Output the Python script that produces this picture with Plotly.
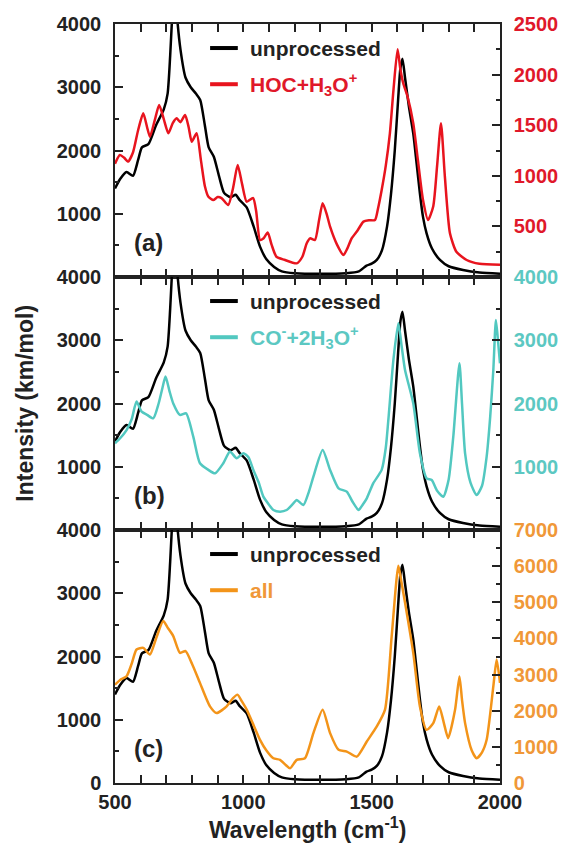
import plotly.graph_objects as go
from plotly.subplots import make_subplots

# ---------------- data ----------------
unproc_x = [500, 520, 545, 570, 590, 605, 630, 660, 690, 705, 715, 725, 732, 740, 755, 775, 795, 815,
            832, 850, 865, 885, 905, 925, 950, 970, 985, 1013, 1040, 1065, 1090, 1120, 1150, 1200,
            1300, 1400, 1450, 1480, 1500, 1520, 1540, 1560, 1575, 1590, 1603, 1612, 1620, 1630, 1645,
            1662, 1675, 1688, 1700, 1714, 1735, 1766, 1800, 1856, 1920, 2000]
unproc_y = [1400, 1550, 1660, 1600, 1850, 2050, 2100, 2400, 2650, 2900, 3500, 4300, 4700, 4200, 3600,
            3150, 3000, 2900, 2800, 2400, 2050, 1900, 1600, 1330, 1260, 1300, 1220, 1100, 800, 480, 280,
            160, 90, 60, 50, 60, 90, 180, 210, 270, 420, 800, 1300, 2000, 2800, 3300, 3450, 3150, 2700,
            2270, 1800, 1320, 950, 690, 450, 270, 170, 110, 70, 50]

hoc_x = [500, 519, 535, 551, 570, 590, 610, 625, 636, 655, 672, 690, 708, 725, 740, 755, 773, 787, 799,
         818, 835, 850, 864, 883, 900, 915, 941, 960, 978, 995, 1013, 1038, 1050, 1065, 1078, 1095,
         1110, 1129, 1160, 1208, 1230, 1247, 1260, 1279, 1295, 1309, 1325, 1338, 1365, 1390, 1405,
         1422, 1445, 1468, 1490, 1513, 1525, 1539, 1555, 1571, 1585, 1601, 1612, 1623, 1640, 1662,
         1680, 1700, 1720, 1740, 1755, 1770, 1785, 1805, 1830, 1870, 1920, 2000]
hoc_y = [1120, 1205, 1180, 1140, 1230, 1450, 1617, 1480, 1386, 1550, 1700, 1560, 1420, 1520, 1568, 1530,
         1600, 1480, 1337, 1420, 1150, 900, 793, 760, 790, 780, 711, 880, 1107, 920, 744, 780, 650, 366,
         380, 440, 320, 200, 170, 135, 200, 333, 382, 366, 560, 728, 620, 497, 320, 217, 280, 382, 460,
         547, 560, 563, 680, 860, 1100, 1420, 1850, 2250, 2050, 1914, 1780, 1519, 1156, 761, 563, 700,
         1100, 1519, 1000, 432, 250, 168, 130, 120]

co_x = [500, 520, 545, 565, 584, 604, 625, 649, 670, 685, 697, 712, 727, 753, 777, 805, 831, 864, 890,
        922, 948, 974, 1000, 1020, 1039, 1060, 1078, 1100, 1117, 1143, 1169, 1195, 1208, 1234, 1255,
        1273, 1309, 1338, 1371, 1403, 1425, 1449, 1465, 1481, 1506, 1539, 1555, 1565, 1585, 1604,
        1617, 1630, 1662, 1688, 1714, 1734, 1755, 1779, 1800, 1818, 1842, 1852, 1864, 1885, 1909,
        1930, 1948, 1962, 1974, 1984, 1992, 2000]
co_y = [1370, 1450, 1580, 1750, 2030, 1870, 1820, 1765, 2000, 2250, 2425, 2200, 2000, 1820, 1845, 1475,
        1055, 950, 896, 1055, 1240, 1134, 1213, 1150, 950, 750, 527, 400, 316, 290, 316, 421, 474, 395,
        600, 843, 1265, 950, 659, 606, 450, 316, 400, 501, 738, 950, 1300, 1740, 2700, 3268, 2900, 2530,
        2003, 1213, 817, 790, 620, 527, 800, 1475, 2635, 2000, 1213, 750, 553, 700, 1160, 1800, 2530,
        3320, 3000, 2635]

all_x = [500, 520, 545, 565, 584, 610, 636, 660, 688, 705, 727, 753, 775, 800, 831, 870, 896, 935, 960,
         977, 995, 1013, 1040, 1065, 1090, 1117, 1143, 1165, 1182, 1208, 1240, 1273, 1309, 1338, 1371,
         1403, 1442, 1481, 1520, 1552, 1578, 1604, 1615, 1630, 1662, 1688, 1714, 1740, 1763, 1780,
         1798, 1825, 1842, 1852, 1864, 1890, 1909, 1930, 1948, 1974, 1987, 2000]
all_y = [2720, 2850, 2953, 3300, 3694, 3740, 3555, 4000, 4480, 4300, 4065, 3600, 3650, 3300, 2770, 2120,
         1935, 2120, 2350, 2445, 2250, 2030, 1600, 1195, 900, 686, 640, 500, 408, 640, 686, 1380, 2030,
         1380, 917, 870, 730, 1147, 1564, 2030, 4065, 6010, 5600, 4990, 3600, 2120, 1470, 1657, 2120,
         1700, 1240, 2030, 2950, 2300, 1657, 900, 686, 850, 1195, 2675, 3416, 2770]

panel_labels = ["(a)", "(b)", "(c)"]
series_names = ["HOC+H<sub>3</sub>O<sup>+</sup>", "CO<sup>-</sup>+2H<sub>3</sub>O<sup>+</sup>", "all"]
series_x = [hoc_x, co_x, all_x]
series_y = [hoc_y, co_y, all_y]
series_colors = ["#e8141e", "#52c8c0", "#f39419"]
label_colors = ["#e0182a", "#5cc8c2", "#f09838"]
right_max = [2500, 4000, 7000]
right_major = [[0, 500, 1000, 1500, 2000, 2500], [0, 1000, 2000, 3000, 4000],
               [0, 1000, 2000, 3000, 4000, 5000, 6000, 7000]]
right_text = [["", "500", "1000", "1500", "2000", "2500"], ["", "1000", "2000", "3000", "4000"],
              ["0", "1000", "2000", "3000", "4000", "5000", "6000", "7000"]]
right_minor = [[250, 750, 1250, 1750, 2250], [500, 1500, 2500, 3500],
               [500, 1500, 2500, 3500, 4500, 5500, 6500]]
left_major = [0, 1000, 2000, 3000, 4000]
left_text = [["", "1000", "2000", "3000", "4000"], ["", "1000", "2000", "3000", "4000"],
             ["0", "1000", "2000", "3000", "4000"]]
left_minor = [500, 1500, 2500, 3500]

FONT = "Liberation Sans, Arial, sans-serif"

fig = make_subplots(rows=3, cols=1, shared_xaxes=True, vertical_spacing=0,
                    specs=[[{"secondary_y": True}]] * 3)

for i in range(3):
    r = i + 1
    fig.add_trace(go.Scatter(x=unproc_x, y=unproc_y, mode="lines", name="unprocessed",
                             line=dict(color="black", width=2.5, shape="spline", smoothing=0.6),
                             showlegend=False), row=r, col=1, secondary_y=False)
    fig.add_trace(go.Scatter(x=series_x[i], y=series_y[i], mode="lines", name=series_names[i],
                             line=dict(color=series_colors[i], width=2.5, shape="spline", smoothing=0.6),
                             showlegend=False), row=r, col=1, secondary_y=True)

    xs = "" if i == 0 else str(i + 1)
    yl = "" if i == 0 else str(2 * i + 1)
    xref = "x" + xs + " domain"
    yref = "y" + yl + " domain"
    # legend-like labels
    for k, (txt, col) in enumerate([("unprocessed", "black"), (series_names[i], series_colors[i])]):
        yy = 0.905 - k * 0.143
        fig.add_shape(type="line", xref=xref, yref=yref, x0=0.247, x1=0.319, y0=yy, y1=yy,
                      line=dict(color=col, width=4))
        fig.add_annotation(xref=xref, yref=yref, x=0.345, y=yy, text=txt, showarrow=False,
                           xanchor="left", yanchor="middle",
                           font=dict(family=FONT, size=21, color=("#222" if k == 0 else label_colors[i]),
                                     weight="bold"))
    fig.add_annotation(xref=xref, yref=yref, x=0.045, y=0.135, text=panel_labels[i], showarrow=False,
                       xanchor="left", yanchor="middle",
                       font=dict(family=FONT, size=24, color="#222", weight="bold"))

    fig.update_yaxes(row=r, col=1, secondary_y=False, range=[0, 4000], tickmode="array",
                     tickvals=left_major, ticktext=left_text[i], ticks="inside", ticklen=8,
                     tickwidth=1.5, tickcolor="#222", showline=True, linecolor="#222", linewidth=1.5,
                     showgrid=False, zeroline=False, ticklabelstandoff=8, automargin=False,
                     tickfont=dict(family=FONT, size=20, color="#222", weight="bold"),
                     minor=dict(tickmode="array", tickvals=left_minor, ticks="inside", ticklen=4,
                                tickwidth=1.5, tickcolor="#222", showgrid=False))
    fig.update_yaxes(row=r, col=1, secondary_y=True, range=[0, right_max[i]], tickmode="array",
                     tickvals=right_major[i], ticktext=right_text[i], ticks="inside", ticklen=8,
                     tickwidth=1.5, tickcolor="#222", showline=True, linecolor="#222", linewidth=1.5,
                     showgrid=False, zeroline=False, ticklabelstandoff=8, automargin=False,
                     tickfont=dict(family=FONT, size=20, color=label_colors[i], weight="bold"),
                     minor=dict(tickmode="array", tickvals=right_minor[i], ticks="inside", ticklen=4,
                                tickwidth=1.5, tickcolor="#222", showgrid=False))

fig.update_xaxes(domain=[0, 1], range=[500, 2000], tickmode="linear", tick0=500, dtick=500,
                 ticks="inside", ticklen=8, tickwidth=1.5, tickcolor="#222", showline=True,
                 linecolor="#222", linewidth=1.5, mirror="allticks", showgrid=False, zeroline=False,
                 automargin=False,
                 tickfont=dict(family=FONT, size=20, color="#222", weight="bold"),
                 minor=dict(dtick=100, ticks="inside", ticklen=4, tickwidth=1.5, tickcolor="#222",
                            showgrid=False))

fig.add_annotation(xref="paper", yref="paper", x=-0.236, y=0.5, text="Intensity (km/mol)",
                   textangle=-90, showarrow=False, xanchor="center", yanchor="middle",
                   font=dict(family=FONT, size=23, color="#222", weight="bold"))
fig.add_annotation(xref="paper", yref="paper", x=0.5, y=-0.059, text="Wavelength (cm<sup>-1</sup>)",
                   showarrow=False, xanchor="center", yanchor="middle",
                   font=dict(family=FONT, size=23, color="#222", weight="bold"))

fig.update_layout(width=566, height=844, margin=dict(l=115, r=66, t=24, b=61, autoexpand=False),
                  plot_bgcolor="white", paper_bgcolor="white", showlegend=False)

fig.write_html("out.html")
